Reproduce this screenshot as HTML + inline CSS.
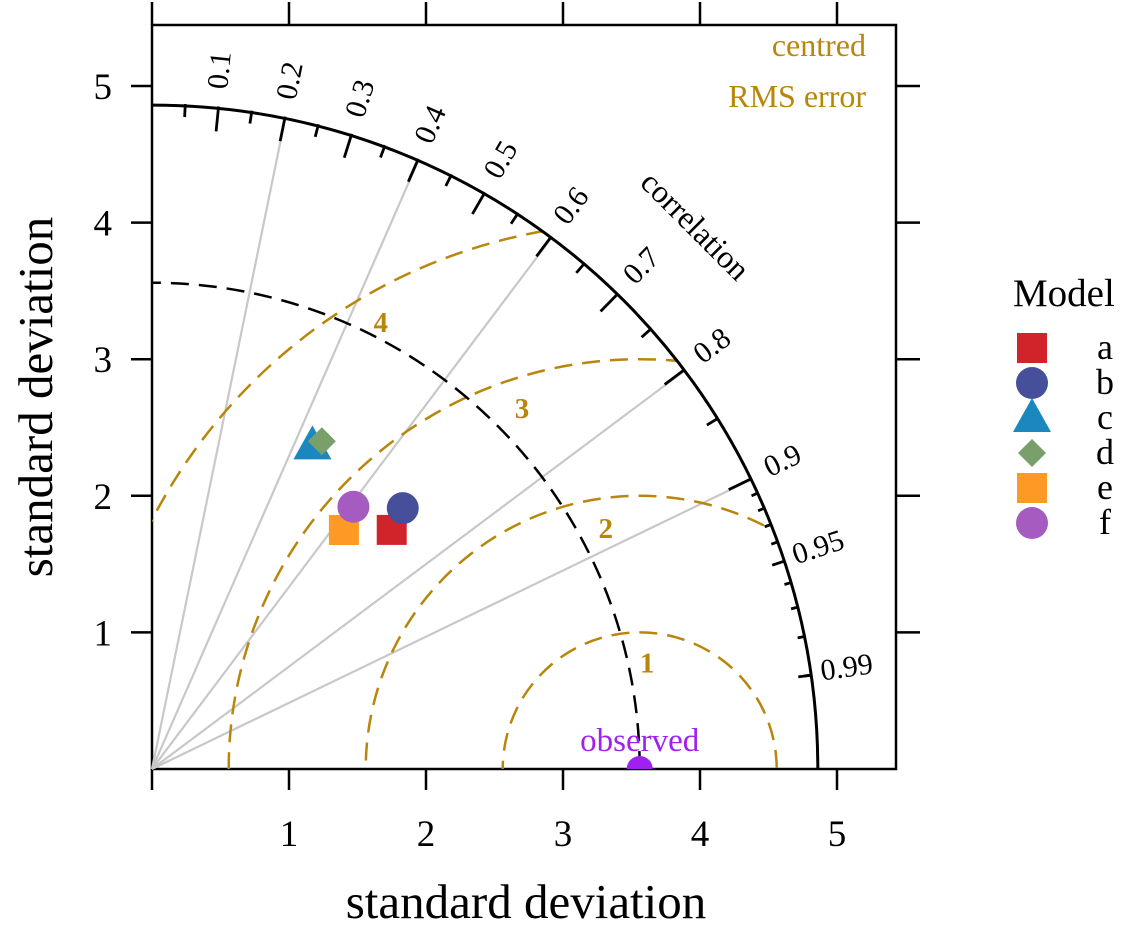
<!DOCTYPE html>
<html><head><meta charset="utf-8"><style>
html,body{margin:0;background:#fff;overflow:hidden;width:1121px;height:927px}
svg{display:block;font-family:"Liberation Serif",serif}
</style></head><body>
<svg id="chart" width="1121" height="927" viewBox="0 0 1121 927" xmlns="http://www.w3.org/2000/svg">
<defs>
<clipPath id="quarter"><path id="qpath" d=""/></clipPath>
<clipPath id="panel"><rect x="152" y="25" width="744" height="744"/></clipPath>
</defs>
<g id="g"></g>
</svg>
<script>
// data
const models=['a','b','c','d','e','f'];
const modelSD=[2.475,2.645,2.643,2.701,2.241,2.418];
const modelCor=[0.707,0.692,0.443,0.459,0.625,0.608];
const modelColors=['#d0242a','#46509a','#1a87bf','#79a06a','#fd9a25','#a65bc1'];
const modelShapes=['square','circle','triangle','diamond','square','circle'];
const obsSD=3.56;
const maxSD=4.86;
const rmsLevels=[1,2,3,4];
const rmsLabelAngles=[86,98,108,120];
const corLabels=[0.1,0.2,0.3,0.4,0.5,0.6,0.7,0.8,0.9,0.95,0.99];
const corLines=[0.2,0.4,0.6,0.8,0.9];
const minorCor=[0.05,0.15,0.25,0.35,0.45,0.55,0.65,0.75,0.85,0.91,0.92,0.93,0.94,0.96,0.97,0.98,0.99];
const axisTicks=[1,2,3,4,5];

const NS='http://www.w3.org/2000/svg';
const g=document.getElementById('g');
const X0=152,Y0=769,SX=137,SY=136.6;
const px=v=>X0+v*SX, py=v=>Y0-v*SY;
function el(t,a,p){const e=document.createElementNS(NS,t);for(const k in a)e.setAttribute(k,a[k]);(p||g).appendChild(e);return e;}
function polar(sd,c){const th=Math.acos(c);return [px(sd*Math.cos(th)),py(sd*Math.sin(th))];}

let q=`M${X0},${Y0} L${px(maxSD)},${Y0} A${maxSD*SX},${maxSD*SY} 0 0 0 ${X0},${py(maxSD)} Z`;
document.getElementById('qpath').setAttribute('d',q);

let e=el('rect',{x:152,y:25,width:744,height:744,fill:'none',stroke:'#000','stroke-width':2.5});

axisTicks.forEach(v=>{
 el('line',{x1:px(v),x2:px(v),y1:769,y2:790,stroke:'#000','stroke-width':2.5});
 el('line',{x1:px(v),x2:px(v),y1:25,y2:2,stroke:'#000','stroke-width':2.5});
 el('line',{x1:152,x2:131,y1:py(v),y2:py(v),stroke:'#000','stroke-width':2.5});
 el('line',{x1:896,x2:920,y1:py(v),y2:py(v),stroke:'#000','stroke-width':2.5});
 let t=el('text',{x:px(v),y:846,'font-size':37,'text-anchor':'middle'});t.textContent=v;
 
 t=el('text',{x:112,y:py(v)+13,'font-size':37,'text-anchor':'end'});t.textContent=v;
 
});
el('line',{x1:152,x2:152,y1:769,y2:790,stroke:'#000','stroke-width':2.5});
el('line',{x1:152,x2:152,y1:25,y2:2,stroke:'#000','stroke-width':2.5});

corLines.forEach(c=>{const [x,y]=polar(maxSD,c);
 const l=el('line',{x1:X0,y1:Y0,x2:x,y2:y,stroke:'#c8c8c8','stroke-width':2.2});
 });

const cg=el('g',{'clip-path':'url(#quarter)'});
rmsLevels.forEach(r=>{
 const p=el('ellipse',{cx:px(obsSD),cy:Y0,rx:r*SX,ry:r*SY,fill:'none',stroke:'#b8860b','stroke-width':2.5,'stroke-dasharray':'18,10'},cg);
 
});
rmsLevels.forEach((r,i)=>{
 const a=rmsLabelAngles[i]*Math.PI/180, rr=r-0.22;
 const t=el('text',{x:px(obsSD+rr*Math.cos(a)),y:py(rr*Math.sin(a))+10,'font-size':29,'font-weight':'bold',fill:'#b8860b','text-anchor':'middle'});
 t.textContent=r;
});
e=el('path',{d:`M${px(obsSD)},${Y0} A${obsSD*SX},${obsSD*SY} 0 0 0 ${X0},${py(obsSD)}`,fill:'none',stroke:'#000','stroke-width':2.5,'stroke-dasharray':'18,10'});

e=el('path',{d:`M${px(maxSD)},${Y0} A${maxSD*SX},${maxSD*SY} 0 0 0 ${X0},${py(maxSD)}`,fill:'none',stroke:'#000','stroke-width':3});

function tick(c,len){const th=Math.acos(c),R=maxSD*SX;
 const x1=X0+R*Math.cos(th),y1=Y0-R*Math.sin(th),x2=X0+(R-len)*Math.cos(th),y2=Y0-(R-len)*Math.sin(th);
 el('line',{x1,y1,x2,y2,stroke:'#000','stroke-width':2.8});}
corLabels.forEach(c=>tick(c,c<0.95?25:13));
minorCor.forEach(c=>tick(c,c>0.9?7:13));
corLabels.forEach(c=>{const th=Math.acos(c),R=702;
 const x=X0+R*Math.cos(th),y=Y0-R*Math.sin(th);
 const t=el('text',{x,y,'font-size':30,'text-anchor':'middle','dominant-baseline':'middle',transform:`rotate(${-th*180/Math.PI} ${x} ${y})`});
 t.textContent=c;});
e=el('text',{x:693,y:228,'font-size':32,'text-anchor':'middle','dominant-baseline':'middle',transform:'rotate(45 693 228)'});
e.textContent='correlation';

e=el('text',{x:866,y:56,'font-size':32,fill:'#b8860b','text-anchor':'end'});e.textContent='centred';

e=el('text',{x:866,y:107,'font-size':32,fill:'#b8860b','text-anchor':'end'});e.textContent='RMS error';


const pg=el('g',{'clip-path':'url(#panel)'});
e=el('circle',{cx:px(obsSD),cy:Y0,r:13,fill:'#a020f0'},pg);

e=el('text',{x:px(obsSD),y:751,'font-size':33,fill:'#a020f0','text-anchor':'middle'});e.textContent='observed';


function shape(s,x,y,col,parent){
 if(s==='square')return el('rect',{x:x-15,y:y-15,width:30,height:30,fill:col},parent);
 if(s==='circle')return el('circle',{cx:x,cy:y,r:16,fill:col},parent);
 if(s==='triangle')return el('polygon',{points:`${x},${y-20} ${x-19},${y+14} ${x+19},${y+14}`,fill:col},parent);
 return el('polygon',{points:`${x},${y-14} ${x+14},${y} ${x},${y+14} ${x-14},${y}`,fill:col},parent);
}
models.forEach((m,i)=>{const [x,y]=polar(modelSD[i],modelCor[i]);
 const s=shape(modelShapes[i],x,y,modelColors[i]);
 
 const ly=348+i*35;
 const ls=shape(modelShapes[i],1032,ly,modelColors[i]);
 
 const t=el('text',{x:1105,y:ly+11,'font-size':36,'text-anchor':'middle'});t.textContent=m;
 
});
e=el('text',{x:1013,y:306,'font-size':39});e.textContent='Model';


e=el('text',{x:526,y:918,'font-size':49,'text-anchor':'middle'});e.textContent='standard deviation';

e=el('text',{x:0,y:0,'font-size':49,'text-anchor':'middle',transform:'translate(52 397) rotate(-90)'});e.textContent='standard deviation';

</script>
</body></html>
